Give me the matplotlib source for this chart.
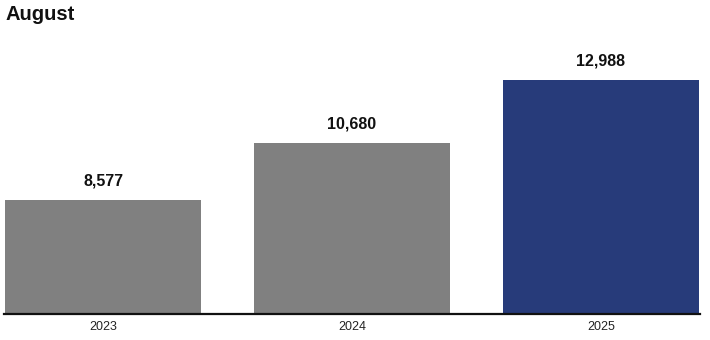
import matplotlib
matplotlib.use("Agg")
import matplotlib.pyplot as plt

plt.rcParams['font.family'] = ['Liberation Sans', 'DejaVu Sans']

categories = ["2023", "2024", "2025"]
values = [8577, 10680, 12988]
colors = ["#808080", "#808080", "#273b7a"]
title = "August"

fig = plt.figure(figsize=(7.1, 3.4), dpi=100)
ax = fig.add_axes([4/710, 1 - 314/340, 696/710, 284/340])

x = range(len(categories))
bars = ax.bar(x, values, width=0.787, color=colors)
ax.set_xlim(-0.398, 2.398)
ax.set_ylim(4385, 14826)

for b, v in zip(bars, values):
    ax.annotate(f"{v:,}", (b.get_x() + b.get_width()/2, v), xytext=(0, 8),
                textcoords="offset points", ha="center", va="bottom",
                fontsize=11.5, fontweight="bold", color="#111111")

ax.set_xticks(list(x))
ax.set_xticklabels(categories, fontsize=9, color="#222222")
ax.tick_params(axis='x', length=0, pad=5)
ax.set_yticks([])
for s in ["top", "right", "left"]:
    ax.spines[s].set_visible(False)
ax.spines["bottom"].set_linewidth(1.6)
ax.spines["bottom"].set_color("#111111")

fig.text(5/710, 1 - 15/340, title, fontsize=14.5, fontweight="bold", va="center", ha="left", color="#111111")

fig.savefig("out.png", dpi=100)
